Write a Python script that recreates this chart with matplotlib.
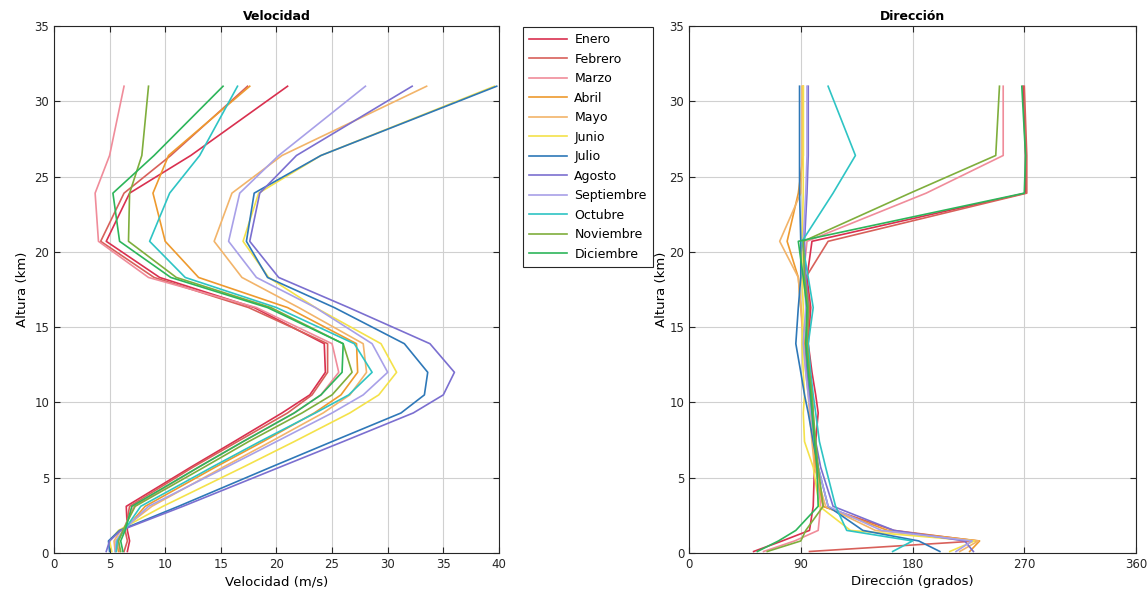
import matplotlib
matplotlib.use("Agg")
import matplotlib.pyplot as plt

# altitude levels (km) shared by every monthly profile
alturas = [0.1, 0.8, 1.5, 3.1, 5.7, 7.4, 9.3, 10.5, 12.0, 13.9, 16.3, 18.3, 20.7, 23.9, 26.4, 31.0]

meses = ["Enero", "Febrero", "Marzo", "Abril", "Mayo", "Junio", "Julio",
         "Agosto", "Septiembre", "Octubre", "Noviembre", "Diciembre"]
colores = ["#D9304F", "#D8605A", "#F08C9A", "#EE9A2E", "#F2B46A", "#F4E24A",
           "#2E78B8", "#7B6FD0", "#A8A0E8", "#2EC4C4", "#7FAE3C", "#2DB55A"]

# wind speed (m/s) per month, same order as alturas
vel_enero = [6.6, 6.8, 6.6, 6.5, 12.3, 16.2, 20.5, 23.0, 24.4, 24.3, 18.0, 9.5, 4.7, 6.8, 12.3, 21.0]
vel_febrero = [6.3, 6.6, 6.4, 6.8, 12.5, 16.5, 21.0, 23.2, 24.6, 24.6, 17.5, 9.0, 4.2, 6.3, 10.5, 17.4]
vel_marzo = [5.9, 5.8, 6.2, 7.2, 13.0, 17.0, 21.6, 24.0, 25.6, 25.0, 18.2, 8.5, 4.0, 3.7, 5.0, 6.3]
vel_abril = [5.8, 5.6, 6.3, 8.2, 14.5, 18.8, 23.4, 25.8, 27.3, 27.2, 21.0, 13.0, 10.0, 8.9, 10.3, 17.6]
vel_mayo = [5.5, 5.4, 6.0, 8.8, 15.2, 19.5, 24.2, 26.6, 28.1, 27.8, 22.0, 16.9, 14.4, 16.0, 20.5, 33.5]
vel_junio = [5.2, 5.0, 5.8, 9.8, 17.0, 21.6, 26.6, 29.2, 30.8, 29.4, 23.5, 19.3, 17.0, 18.4, 24.0, 39.6]
vel_julio = [5.0, 4.9, 5.9, 11.2, 19.5, 25.0, 31.2, 33.3, 33.6, 31.5, 25.2, 19.2, 17.3, 18.0, 24.0, 39.8]
vel_agosto = [4.7, 5.0, 6.0, 11.6, 20.3, 26.0, 32.3, 35.0, 36.0, 33.8, 26.5, 20.2, 17.6, 18.5, 21.8, 32.2]
vel_septiembre = [5.5, 5.6, 6.2, 8.5, 15.5, 20.0, 25.0, 27.8, 30.0, 28.6, 23.5, 18.2, 15.7, 16.7, 20.2, 28.0]
vel_octubre = [5.6, 5.7, 6.3, 7.8, 14.2, 18.5, 23.5, 26.5, 28.6, 27.0, 20.0, 11.8, 8.6, 10.4, 13.1, 16.5]
vel_noviembre = [6.0, 5.8, 6.2, 7.3, 13.5, 17.5, 22.3, 25.0, 26.8, 26.0, 19.5, 11.0, 6.7, 6.8, 7.9, 8.5]
vel_diciembre = [6.2, 6.0, 6.4, 7.0, 13.0, 17.0, 21.6, 24.0, 25.9, 26.0, 19.2, 10.5, 5.9, 5.3, 9.0, 15.2]

# wind direction (degrees) per month
dir_enero = [52, 75, 97, 100, 101, 102, 104, 102, 99, 96, 98, 95, 99, 271, 271, 269]
dir_febrero = [97, 232, 165, 108, 103, 101, 100, 99, 97, 95, 97, 94, 112, 272, 272, 270]
dir_marzo = [60, 85, 104, 106, 103, 101, 99, 98, 96, 94, 95, 92, 95, 191, 253, 253]
dir_abril = [226, 234, 160, 108, 102, 100, 98, 97, 95, 93, 90, 88, 79, 88, 92, 92]
dir_mayo = [218, 233, 150, 110, 101, 99, 97, 96, 94, 92, 90, 88, 73, 90, 91, 91]
dir_junio = [210, 230, 130, 105, 100, 93, 92, 93, 92, 91, 92, 91, 91, 92, 92, 92]
dir_julio = [202, 185, 140, 112, 104, 100, 96, 93, 90, 86, 88, 90, 90, 89, 89, 89]
dir_agosto = [229, 222, 165, 116, 106, 102, 99, 97, 95, 94, 96, 94, 93, 95, 96, 96]
dir_septiembre = [215, 228, 155, 112, 104, 101, 98, 96, 94, 92, 94, 93, 92, 94, 95, 95]
dir_octubre = [164, 180, 127, 118, 110, 105, 102, 100, 98, 96, 100, 96, 91, 116, 134, 112]
dir_noviembre = [63, 90, 94, 108, 104, 102, 100, 99, 97, 95, 96, 93, 92, 178, 247, 250]
dir_diciembre = [55, 72, 86, 104, 103, 101, 99, 98, 96, 94, 95, 92, 88, 270, 271, 268]

velocidades = [vel_enero, vel_febrero, vel_marzo, vel_abril, vel_mayo, vel_junio, vel_julio,
               vel_agosto, vel_septiembre, vel_octubre, vel_noviembre, vel_diciembre]
direcciones = [dir_enero, dir_febrero, dir_marzo, dir_abril, dir_mayo, dir_junio, dir_julio,
               dir_agosto, dir_septiembre, dir_octubre, dir_noviembre, dir_diciembre]


def matlab_axes(ax, xticks):
    ax.set_xticks(xticks)
    ax.set_yticks(range(0, 36, 5))
    ax.set_ylim(0, 35)
    ax.set_xlim(xticks[0], xticks[-1])
    ax.grid(True, color="#D0D0D0", linewidth=0.8)
    ax.set_axisbelow(True)
    ax.tick_params(direction="in", top=True, right=True, length=4,
                   labelsize=8.5, colors="#262626", width=0.8)
    for s in ax.spines.values():
        s.set_color("#262626")
        s.set_linewidth(0.8)


fig = plt.figure(figsize=(11.48, 5.95), dpi=100)
ax1 = fig.add_axes([0.047, 0.0706, 0.3876, 0.8857])
ax2 = fig.add_axes([0.6002, 0.0706, 0.3894, 0.8857])

for mes, c, v, d in zip(meses, colores, velocidades, direcciones):
    ax1.plot(v, alturas, color=c, lw=1.2, label=mes)
    ax2.plot(d, alturas, color=c, lw=1.2)

matlab_axes(ax1, list(range(0, 41, 5)))
matlab_axes(ax2, [0, 90, 180, 270, 360])

ax1.set_title("Velocidad", fontsize=9, fontweight="bold", pad=4)
ax1.set_xlabel("Velocidad (m/s)", fontsize=9.5, labelpad=3)
ax1.set_ylabel("Altura (km)", fontsize=9.5, labelpad=4)
ax2.set_title("Dirección", fontsize=9, fontweight="bold", pad=4)
ax2.set_xlabel("Dirección (grados)", fontsize=9.5, labelpad=3)
ax2.set_ylabel("Altura (km)", fontsize=9.5, labelpad=1)

handles, labels = ax1.get_legend_handles_labels()
leg = fig.legend(handles, labels, loc="upper left", bbox_to_anchor=(0.4556, 0.9546),
                 borderaxespad=0, fontsize=9, labelspacing=0.52, handlelength=3.0,
                 handletextpad=0.6, borderpad=0.5, fancybox=False, framealpha=1,
                 edgecolor="#262626")
leg.get_frame().set_linewidth(0.8)

fig.savefig("out.png", dpi=100)
